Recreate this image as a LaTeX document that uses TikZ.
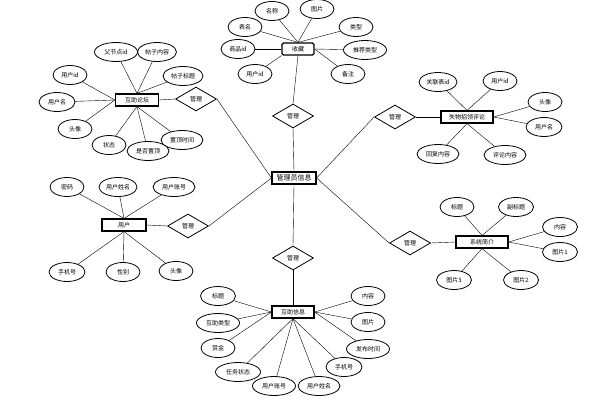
\documentclass[tikz,border=0pt]{standalone}
\usepackage{fontspec}
\setmainfont{Noto Sans CJK SC}
\usetikzlibrary{shapes.geometric,backgrounds}

\begin{document}
\begin{tikzpicture}[x=1pt, y=-1pt, font=\fontsize{6}{7}\selectfont, line width=0.8pt,
  entity/.style={draw, fill=white, line width=1.2pt, minimum height=12pt, inner sep=1pt},
  attr/.style={draw, ellipse, fill=white, minimum width=34pt, minimum height=19pt, inner sep=0pt},
  wide/.style={minimum width=43pt},
  rel/.style={draw, diamond, fill=white, minimum width=41pt, minimum height=24pt, inner sep=0pt}]
\useasboundingbox (0,0) rectangle (601,404);

\node (admin) [entity, minimum width=44pt, font=\fontsize{7}{8}\selectfont] at (294,178) {管理员信息};

\node (manage top) [rel] at (293,116) {管理};
\node (manage forum) [rel] at (196,99) {管理};
\node (manage comment) [rel] at (395,117) {管理};
\node (manage user) [rel] at (188,226) {管理};
\node (manage help) [rel] at (293,258) {管理};
\node (manage intro) [rel] at (410,243) {管理};

% collection
\node (collect) [entity, minimum width=32pt, rounded corners=1.5pt] at (298,49) {收藏};
\node (collect name) [attr] at (272,11) {名称};
\node (collect pic) [attr] at (317,9) {图片};
\node (collect table) [attr] at (245,27) {表名};
\node (collect type) [attr] at (356,27) {类型};
\node (collect goods) [attr] at (238,49) {商品id};
\node (collect rec) [attr, wide] at (365,50) {推荐类型};
\node (collect user) [attr] at (255,74) {用户id};
\node (collect note) [attr] at (348,74) {备注};

% forum
\node (forum) [entity, minimum width=43pt] at (137,100) {互助论坛};
\node (forum parent) [attr, wide] at (116,52) {父节点id};
\node (forum content) [attr, minimum width=39pt] at (157,52) {帖子内容};
\node (forum title) [attr, minimum width=40pt] at (183,76) {帖子标题};
\node (forum uid) [attr] at (70,75) {用户id};
\node (forum uname) [attr, minimum width=36pt] at (57,102) {用户名};
\node (forum avatar) [attr] at (75,129) {头像};
\node (forum state) [attr] at (109,145) {状态};
\node (forum top) [attr, minimum width=42pt] at (148,151) {是否置顶};
\node (forum toptime) [attr, minimum width=42pt] at (182,140) {置顶时间};

% comment
\node (comment) [entity, minimum width=52pt] at (467,117) {失物招领评论};
\node (comment ref) [attr, minimum width=38pt] at (438,82) {关联表id};
\node (comment uid) [attr] at (500,81) {用户id};
\node (comment avatar) [attr] at (545,102) {头像};
\node (comment uname) [attr, minimum width=36pt] at (544,127) {用户名};
\node (comment reply) [attr, minimum width=42pt] at (438,154) {回复内容};
\node (comment text) [attr, minimum width=42pt] at (505,155) {评论内容};

% user
\node (user) [entity, minimum width=44pt] at (124,225) {用户};
\node (user pwd) [attr] at (67,187) {密码};
\node (user name) [attr, minimum width=38pt] at (118,187) {用户姓名};
\node (user account) [attr, minimum width=42pt] at (174,187) {用户账号};
\node (user phone) [attr, minimum width=36pt] at (67,272) {手机号};
\node (user sex) [attr] at (123,272) {性别};
\node (user avatar) [attr] at (176,271) {头像};

% intro
\node (intro) [entity, minimum width=52pt] at (482,242) {系统简介};
\node (intro title) [attr] at (457,207) {标题};
\node (intro sub) [attr, minimum width=35pt] at (516,207) {副标题};
\node (intro content) [attr, minimum width=35pt] at (560,227) {内容};
\node (intro pic1) [attr, minimum width=35pt] at (560,252) {图片1};
\node (intro pic3) [attr, minimum width=35pt] at (454,280) {图片3};
\node (intro pic2) [attr, minimum width=35pt] at (521,280) {图片2};

% help info
\node (help) [entity, minimum width=42pt] at (293,312) {互助信息};
\node (help title) [attr, minimum width=35pt] at (218,296) {标题};
\node (help type) [attr, wide] at (218,323) {互助类型};
\node (help reward) [attr] at (218,348) {赏金};
\node (help state) [attr, minimum width=45pt] at (238,372) {任务状态};
\node (help account) [attr, wide] at (274,386) {用户账号};
\node (help name) [attr, minimum width=42pt] at (319,386) {用户姓名};
\node (help phone) [attr, minimum width=36pt] at (344,367) {手机号};
\node (help time) [attr, wide] at (368,349) {发布时间};
\node (help pic) [attr] at (368,322) {图片};
\node (help content) [attr] at (368,296) {内容};

\begin{scope}[on background layer]
\draw (collect.south) -- (manage top.north);
\draw (manage top.south) -- (admin.north);
\draw (forum.east) -- (manage forum.west);
\draw (manage forum.east) -- (admin.west);
\draw (comment.west) -- (manage comment.east);
\draw (manage comment.west) -- (admin.east);
\draw (user.east) -- (manage user.west);
\draw (manage user.east) -- (admin.west);
\draw (help.north) -- (manage help.south);
\draw (manage help.north) -- (admin.south);
\draw (intro.west) -- (manage intro.east);
\draw (manage intro.west) -- (admin.east);

\draw (collect name) -- (collect.north);
\draw (collect pic) -- (collect.north);
\draw (collect table) -- (collect.north);
\draw (collect type) -- (collect.north);
\draw (collect goods) -- (collect.west);
\draw (collect rec) -- (collect.east);
\draw (collect user) -- (collect.south west);
\draw (collect note) -- (collect.east);

\draw (forum parent) -- (forum.north);
\draw (forum content) -- (forum.north);
\draw (forum title) -- (forum.north);
\draw (forum uid) -- (forum.west);
\draw (forum uname) -- (forum.west);
\draw (forum avatar) -- (forum.west);
\draw (forum state) -- (forum.south);
\draw (forum top) -- (forum.south);
\draw (forum toptime) -- (forum.south);

\draw (comment ref) -- (comment.north);
\draw (comment uid) -- (comment.north);
\draw (comment avatar) -- (comment.east);
\draw (comment uname) -- (comment.east);
\draw (comment reply) -- (comment.south);
\draw (comment text) -- (comment.south);

\draw (user pwd) -- (user.north);
\draw (user name) -- (user.north);
\draw (user account) -- (user.north);
\draw (user phone) -- (user.south);
\draw (user sex) -- (user.south);
\draw (user avatar) -- (user.south);

\draw (intro title) -- (intro.north);
\draw (intro sub) -- (intro.north);
\draw (intro content) -- (intro.east);
\draw (intro pic1) -- (intro.east);
\draw (intro pic3) -- (intro.south);
\draw (intro pic2) -- (intro.south);

\draw (help title) -- (help.west);
\draw (help type) -- (help.west);
\draw (help reward) -- (help.west);
\draw (help state) -- (help.south);
\draw (help account) -- (help.south);
\draw (help name) -- (help.south);
\draw (help phone) -- (help.south);
\draw (help time) -- (help.east);
\draw (help pic) -- (help.east);
\draw (help content) -- (help.east);
\end{scope}

\end{tikzpicture}
\end{document}
